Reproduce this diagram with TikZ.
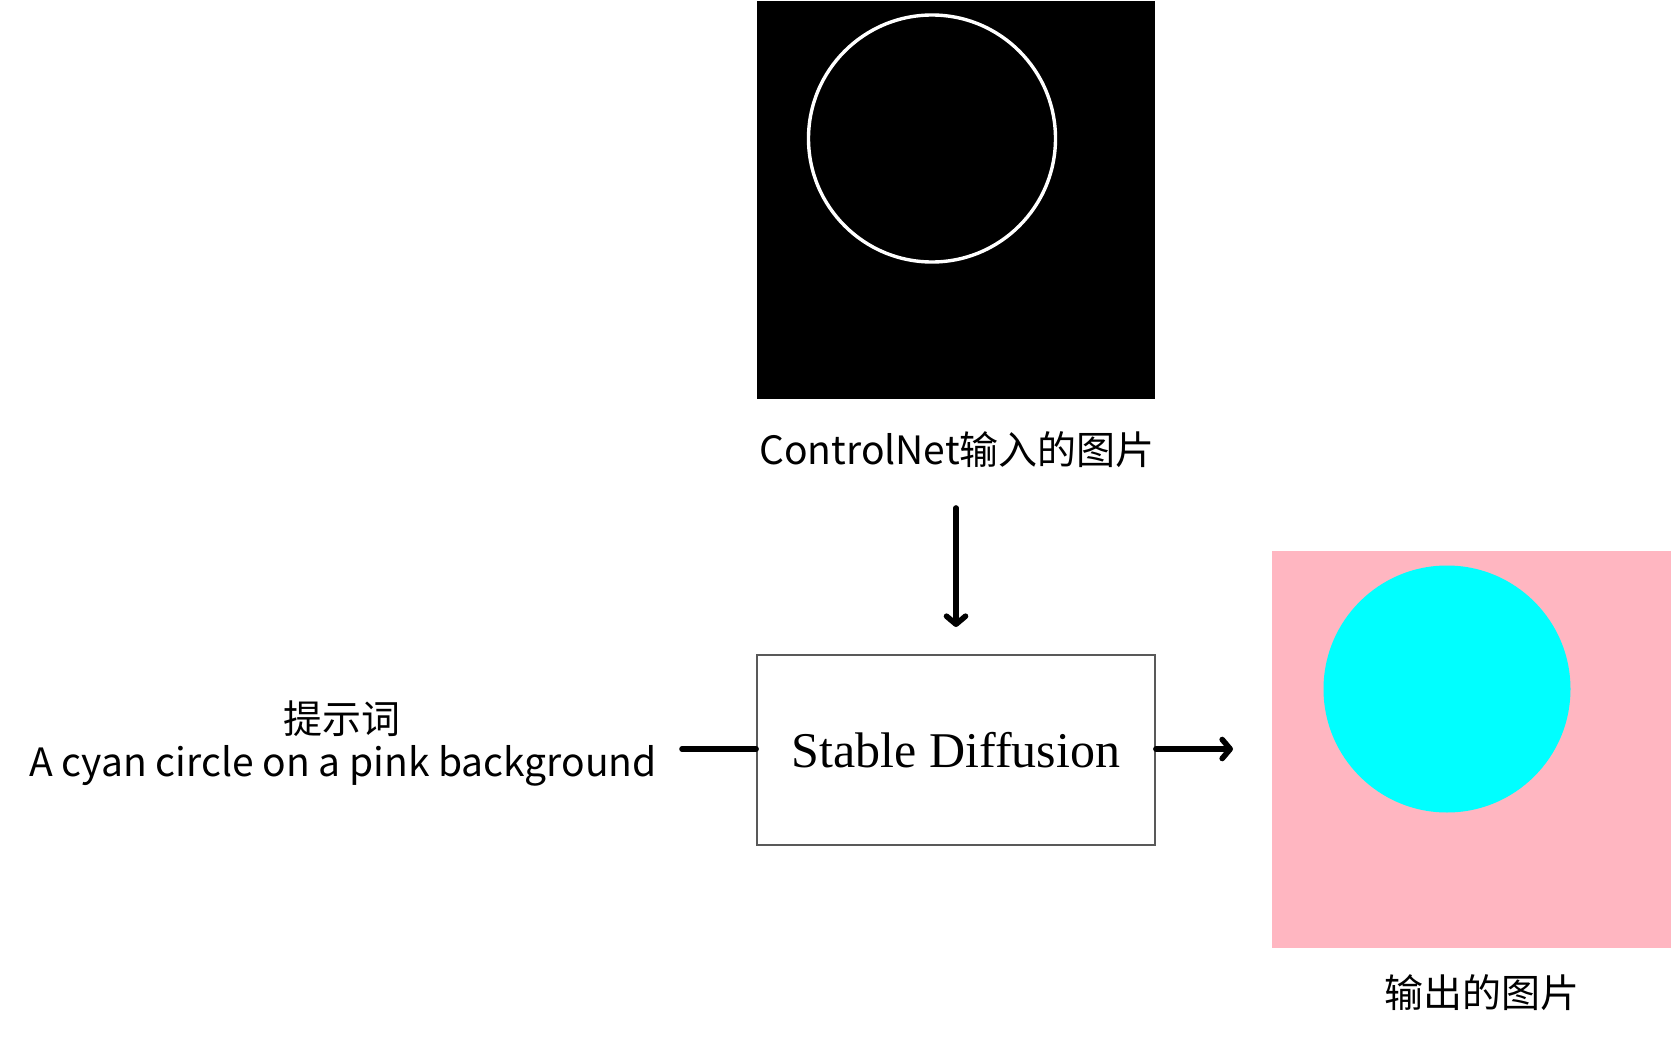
\documentclass[tikz,border=0pt]{standalone}
\usepackage{fontspec}
\setmainfont{Liberation Serif}
\newfontfamily\cjkfont{Noto Sans CJK SC}
\usetikzlibrary{arrows.meta}
\definecolor{bgpink}{HTML}{FFB6C1}
\definecolor{aqua}{RGB}{0,255,255}
\definecolor{boxgray}{HTML}{595959}
\tikzset{
  lbl/.style={font=\cjkfont\fontsize{19.5pt}{23pt}\selectfont, inner sep=0pt, anchor=base},
  conn/.style={line width=2.8pt, line cap=round, black},
  tipped/.style={conn, -{Straight Barb[length=4pt, width=9.5pt, line cap=round, line join=round]}},
}
\begin{document}
\begin{tikzpicture}[x=0.5pt, y=-0.5pt]
\useasboundingbox (0,0) rectangle (1672,1038);
% input image
\node[fill=black, draw=none, minimum width=199pt, minimum height=199pt, inner sep=0pt] (inimg) at (956,200) {};
\draw[white, line width=1.7pt] (932,138.5) circle [radius=123.5];
\node[lbl] (inlbl) at (957,464) {ControlNet输入的图片};
% stable diffusion box
\node[draw=boxgray, line width=0.9pt, fill=white, minimum width=199pt, minimum height=95pt, inner sep=0pt,
      font=\fontsize{25pt}{30pt}\selectfont] (sd) at (956,750) {Stable Diffusion};
% prompt
\node[lbl] (ptitle) at (342,733) {提示词};
\node[lbl] (prompt) at (343,776) {A cyan circle on a pink background};
% output image
\node[fill=bgpink, draw=none, minimum width=199.5pt, minimum height=198.5pt, inner sep=0pt] (outimg) at (1471.5,749.5) {};
\fill[aqua] (1447,689) circle [radius=123.5];
\node[lbl] (outlbl) at (1482,1007) {输出的图片};
% connectors
\coordinate (downstart) at (956,508);
\coordinate (downend) at (956,627);
\coordinate (leftstart) at (682,749);
\coordinate (rightend) at (1233,749);
\draw[tipped] (downstart) -- (downend);
\draw[conn] (leftstart) -- (sd.west |- leftstart);
\draw[tipped] (sd.east |- rightend) -- (rightend);
\end{tikzpicture}
\end{document}
